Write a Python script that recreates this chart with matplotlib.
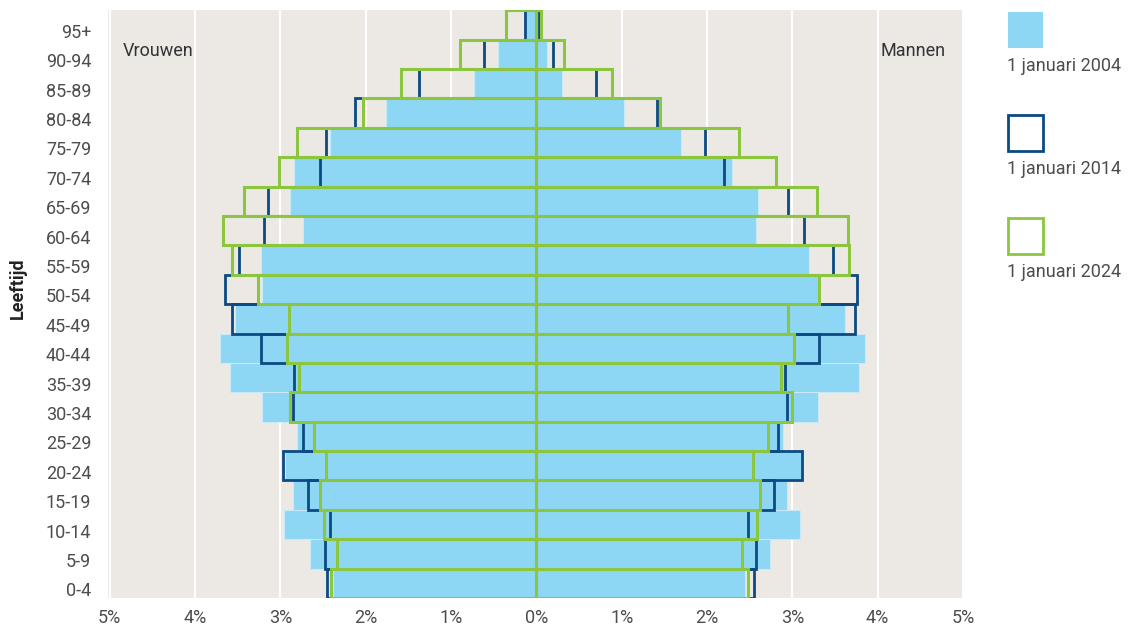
import matplotlib.pyplot as plt
from matplotlib.patches import Rectangle
from matplotlib.transforms import ScaledTranslation

plt.rcParams['font.family'] = ['Roboto', 'DejaVu Sans']

leeftijd = ['0-4', '5-9', '10-14', '15-19', '20-24', '25-29', '30-34', '35-39', '40-44', '45-49',
            '50-54', '55-59', '60-64', '65-69', '70-74', '75-79', '80-84', '85-89', '90-94', '95+']

# percentage van totale bevolking, van jong naar oud
vrouwen_2004 = [2.38, 2.65, 2.96, 2.85, 2.95, 2.81, 3.21, 3.59, 3.71, 3.53,
                3.22, 3.23, 2.73, 2.89, 2.84, 2.42, 1.76, 0.73, 0.45, 0.12]
vrouwen_2014 = [2.45, 2.48, 2.42, 2.68, 2.97, 2.73, 2.85, 2.84, 3.23, 3.57,
                3.65, 3.48, 3.19, 3.14, 2.53, 2.47, 2.13, 1.37, 0.61, 0.13]
vrouwen_2024 = [2.41, 2.33, 2.49, 2.53, 2.47, 2.60, 2.89, 2.78, 2.92, 2.90,
                3.26, 3.57, 3.67, 3.42, 3.01, 2.80, 2.03, 1.58, 0.89, 0.36]

mannen_2004 = [2.44, 2.74, 3.09, 2.94, 3.10, 2.89, 3.30, 3.78, 3.85, 3.62,
               3.31, 3.20, 2.58, 2.60, 2.29, 1.69, 1.03, 0.30, 0.12, 0.02]
mannen_2014 = [2.55, 2.58, 2.48, 2.78, 3.11, 2.83, 2.94, 2.91, 3.31, 3.73,
               3.76, 3.48, 3.14, 2.95, 2.20, 1.98, 1.42, 0.70, 0.20, 0.03]
mannen_2024 = [2.48, 2.41, 2.59, 2.62, 2.54, 2.72, 3.00, 2.87, 3.02, 2.95,
               3.31, 3.67, 3.65, 3.29, 2.81, 2.38, 1.45, 0.89, 0.33, 0.06]

jaren = ['1 januari 2004', '1 januari 2014', '1 januari 2024']

lichtblauw = '#8dd7f5'
donkerblauw = '#0b4a82'
groen = '#8cc63f'
achtergrond = '#ece9e5'
tekst = '#4d4d4d'

fig = plt.figure(figsize=(11.28, 6.26), dpi=100)
ax = fig.add_axes([0.0957, 0.0447, 0.758, 0.939])
ax.set_facecolor(achtergrond)

y = range(len(leeftijd))
ax.barh(y, [-v for v in vrouwen_2004], height=1, color=lichtblauw, edgecolor='#c9e9f6', lw=0.8, zorder=2)
ax.barh(y, mannen_2004, height=1, color=lichtblauw, edgecolor='#c9e9f6', lw=0.8, zorder=2)
ax.barh(y, [-v for v in vrouwen_2014], height=1, fill=False, edgecolor=donkerblauw, lw=2, zorder=3)
ax.barh(y, mannen_2014, height=1, fill=False, edgecolor=donkerblauw, lw=2, zorder=3)
ax.barh(y, [-v for v in vrouwen_2024], height=1, fill=False, edgecolor=groen, lw=2.2, zorder=4)
ax.barh(y, mannen_2024, height=1, fill=False, edgecolor=groen, lw=2.2, zorder=4)

ax.set_xlim(-5.02, 5.0)
ax.set_ylim(-0.5, len(leeftijd) - 0.5)
ticks = list(range(-5, 6))
ax.set_xticks(ticks)
ax.set_xticklabels([f'{abs(t)}%' for t in ticks], color=tekst, fontsize=13)
ax.set_yticks(list(y))
ax.set_yticklabels(leeftijd, color=tekst, fontsize=13)
ax.tick_params(axis='x', length=0, pad=8)
ax.tick_params(axis='y', length=0, pad=12)
# labels staan in het origineel iets lager dan het midden van de balk
verschuiving = ScaledTranslation(0, -6 / 100, fig.dpi_scale_trans)
for lab in ax.get_yticklabels():
    lab.set_transform(lab.get_transform() + verschuiving)
ax.grid(axis='x', color='white', lw=1.5, zorder=1)
ax.set_axisbelow(True)
for s in ax.spines.values():
    s.set_visible(False)

fig.text(18 / 1128, 1 - 288 / 626, 'Leeftijd', fontsize=13, fontweight='bold', color='#222222',
         rotation=90, ha='center', va='center')

ax.text(0.017, 0.93, 'Vrouwen', transform=ax.transAxes, fontsize=13, color='#333333', va='center', ha='left')
ax.text(0.98, 0.93, 'Mannen', transform=ax.transAxes, fontsize=13, color='#333333', va='center', ha='right')

# legenda rechts naast de grafiek
stijlen = [dict(facecolor=lichtblauw, edgecolor='none'),
           dict(facecolor='white', edgecolor=donkerblauw, lw=2),
           dict(facecolor='white', edgecolor=groen, lw=2)]
for i, (jaar, st) in enumerate(zip(jaren, stijlen)):
    top = 1 - (12 + i * 103) / 626
    fig.patches.append(Rectangle((1008 / 1128, top - 36 / 626), 35 / 1128, 36 / 626,
                                 transform=fig.transFigure, **st))
    fig.text(1007 / 1128, top - 54 / 626, jaar, fontsize=13, color=tekst, va='center', ha='left')

fig.savefig('out.png', dpi=100, facecolor='white')
